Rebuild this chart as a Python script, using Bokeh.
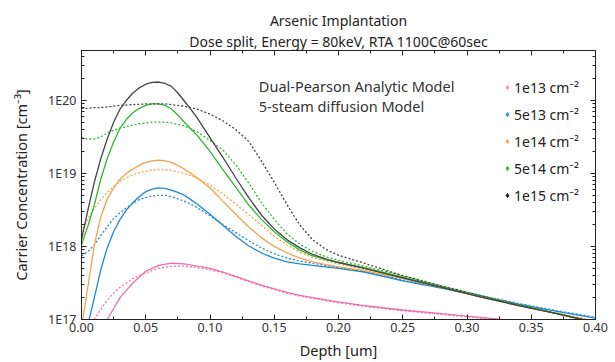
from bokeh.plotting import figure
from bokeh.models import (FixedTicker, CustomJSTickFormatter, NumeralTickFormatter, LogAxis,
                          LinearAxis, Label, Legend, LegendItem, Title)
from bokeh.embed import file_html
from bokeh.resources import INLINE

# depth grid (um) and log10 carrier concentration
X = [0, .005, .01, .015, .02, .025, .03, .035, .04, .045, .05, .055, .06, .065, .07, .075, .08,
     .085, .09, .10, .11, .12, .13, .14, .15, .16, .17, .18, .19, .20, .22, .25, .28, .31, .34,
     .37, .40]

BK_S = [18.09, 18.50, 18.88, 19.20, 19.47, 19.70, 19.88, 20.00, 20.10, 20.17, 20.22, 20.245, 20.25,
        20.23, 20.19, 20.10, 19.99, 19.88, 19.76, 19.49, 19.22, 18.94, 18.67, 18.43, 18.24, 18.09,
        17.98, 17.89, 17.83, 17.78, 17.70, 17.57, 17.44, 17.31, 17.19, 17.08, 16.96]
BK_D = [19.89, 19.89, 19.90, 19.90, 19.91, 19.92, 19.93, 19.935, 19.94, 19.945, 19.95, 19.95, 19.95,
        19.95, 19.94, 19.93, 19.92, 19.90, 19.88, 19.81, 19.72, 19.60, 19.44, 19.17, 18.88, 18.57,
        18.29, 18.09, 17.96, 17.88, 17.77, 17.60, 17.46, 17.33, 17.20, 17.08, 16.96]
GR_S = [18.02, 18.28, 18.57, 18.92, 19.20, 19.43, 19.62, 19.74, 19.83, 19.89, 19.93, 19.95, 19.95,
        19.93, 19.88, 19.80, 19.70, 19.61, 19.52, 19.30, 19.05, 18.81, 18.57, 18.37, 18.20, 18.06,
        17.95, 17.87, 17.82, 17.78, 17.71, 17.58, 17.45, 17.32, 17.20, 17.08, 16.95]
GR_D = [19.49, 19.47, 19.47, 19.50, 19.55, 19.59, 19.62, 19.64, 19.66, 19.68, 19.69, 19.70, 19.70,
        19.70, 19.69, 19.67, 19.65, 19.61, 19.57, 19.45, 19.32, 19.12, 18.87, 18.60, 18.37, 18.17,
        18.03, 17.93, 17.86, 17.81, 17.73, 17.60, 17.46, 17.33, 17.20, 17.08, 16.96]
OR_S = [16.90, 17.45, 18.02, 18.40, 18.65, 18.80, 18.92, 19.00, 19.06, 19.11, 19.15, 19.17, 19.18,
        19.17, 19.15, 19.11, 19.06, 19.00, 18.94, 18.80, 18.62, 18.44, 18.27, 18.12, 18.00, 17.91,
        17.84, 17.79, 17.75, 17.72, 17.67, 17.56, 17.44, 17.31, 17.19, 17.08, 16.97]
OR_D = [18.20, 18.38, 18.52, 18.64, 18.74, 18.82, 18.89, 18.94, 18.98, 19.01, 19.03, 19.045, 19.05,
        19.05, 19.04, 19.02, 19.00, 18.97, 18.93, 18.84, 18.72, 18.58, 18.44, 18.29, 18.14, 18.02,
        17.92, 17.85, 17.80, 17.76, 17.69, 17.57, 17.45, 17.32, 17.20, 17.09, 16.98]
BL_S = [16.60, 16.93, 17.30, 17.68, 17.98, 18.20, 18.37, 18.50, 18.60, 18.68, 18.75, 18.785, 18.80,
        18.795, 18.77, 18.74, 18.70, 18.64, 18.58, 18.44, 18.29, 18.14, 18.01, 17.91, 17.84, 17.79,
        17.76, 17.74, 17.72, 17.70, 17.65, 17.53, 17.43, 17.32, 17.21, 17.11, 17.02]
BL_D = [17.87, 17.93, 18.02, 18.15, 18.27, 18.38, 18.46, 18.53, 18.59, 18.64, 18.67, 18.69, 18.70,
        18.70, 18.68, 18.65, 18.62, 18.58, 18.53, 18.42, 18.30, 18.19, 18.08, 17.98, 17.90, 17.84,
        17.80, 17.77, 17.74, 17.71, 17.66, 17.54, 17.44, 17.33, 17.22, 17.12, 17.03]
PK_X = [.015, .02, .025, .03, .04, .05, .06, .07, .08, .09, .10, .11, .12, .13, .14, .15, .16, .17,
        .18, .19, .20, .22, .25, .28, .31, .34]
PK_S = [16.75, 17.00, 17.15, 17.30, 17.50, 17.66, 17.74, 17.77, 17.76, 17.73, 17.70, 17.65, 17.59,
        17.53, 17.47, 17.42, 17.37, 17.33, 17.30, 17.27, 17.24, 17.19, 17.13, 17.08, 17.03, 16.98]
PK_D_X = [.005, .01] + PK_X
PK_D = [16.80, 17.00, 17.14, 17.26, 17.36, 17.44, 17.56, 17.64, 17.70, 17.73, 17.73, 17.71, 17.68,
        17.64, 17.58, 17.52, 17.46, 17.41, 17.36, 17.32, 17.29, 17.26, 17.23, 17.18, 17.12, 17.07,
        17.02, 16.97]

TITLE_LINES = ["Arsenic Implantation", "Dose split, Energy = 80keV, RTA 1100C@60sec"]
LEGEND_LABELS = ["1e13 cm\u207b\u00b2", "5e13 cm\u207b\u00b2", "1e14 cm\u207b\u00b2",
                 "5e14 cm\u207b\u00b2", "1e15 cm\u207b\u00b2"]
COLORS = ["#f06ea9", "#1b8ad3", "#f4a24a", "#2fb82f", "#444444"]
MARKER_COLORS = ["#f08cc0", "#2a8ad0", "#f0a860", "#22bb22", "#111111"]
X_TICKS = [0, 0.05, 0.10, 0.15, 0.20, 0.25, 0.30, 0.35, 0.40]
X_MINOR = [0.025, 0.075, 0.125, 0.175, 0.225, 0.275, 0.325, 0.375]
Y_TICKS = [1e17, 1e18, 1e19, 1e20]
Y_MINOR = [m * 10.0 ** d for d in (17, 18, 19, 20) for m in range(2, 10)]

FONT = "Noto Sans"

p = figure(width=615, height=362, output_backend="svg", toolbar_location=None,
           y_axis_type="log", x_range=(0, 0.40), y_range=(1e17, 4.8e20),
           min_border_left=81, min_border_right=20, min_border_top=50, min_border_bottom=43)
p.xgrid.visible = False
p.ygrid.visible = False
p.outline_line_color = "#222222"
p.background_fill_color = "white"
p.border_fill_color = "white"

series = [
    (PK_X, PK_S, PK_D_X, PK_D),
    (X, BL_S, X, BL_D),
    (X, OR_S, X, OR_D),
    (X, GR_S, X, GR_D),
    (X, BK_S, X, BK_D),
]
for (xs, ys, xd, yd), c in zip(series, COLORS):
    p.line(xs, [10 ** v for v in ys], line_color=c, line_width=1.3)
    p.line(xd, [10 ** v for v in yd], line_color=c, line_width=1.3, line_dash="2 2")

ytick = FixedTicker(ticks=Y_TICKS, minor_ticks=Y_MINOR)
xtick = FixedTicker(ticks=X_TICKS, minor_ticks=X_MINOR)


def style(ax):
    ax.major_tick_in = 5
    ax.major_tick_out = 0
    ax.minor_tick_in = 3
    ax.minor_tick_out = 0
    ax.axis_line_color = "#222222"
    ax.major_tick_line_color = "#222222"
    ax.minor_tick_line_color = "#222222"
    ax.major_label_text_font = FONT
    ax.major_label_text_font_size = "12.5px"
    ax.major_label_text_color = "#333333"
    ax.axis_label_text_font = FONT
    ax.axis_label_text_font_size = "14.5px"
    ax.axis_label_text_font_style = "normal"
    ax.axis_label_text_color = "#222222"


p.xaxis.ticker = xtick
p.xaxis.formatter = NumeralTickFormatter(format="0.00")
p.xaxis.axis_label = "Depth [um]"
p.yaxis.ticker = ytick
p.yaxis.formatter = CustomJSTickFormatter(
    code="return '1E' + Math.round(Math.log10(tick)).toString();")
p.yaxis.axis_label = "Carrier Concentration [cm\u207b\u00b3]"
style(p.xaxis[0])
style(p.yaxis[0])
p.xaxis.major_label_standoff = 3
p.xaxis.axis_label_standoff = 5
p.yaxis.major_label_standoff = 5
p.yaxis.axis_label_standoff = 14

# mirrored axes carrying only inward ticks
top = LinearAxis(ticker=xtick)
style(top)
top.major_label_text_alpha = 0
top.major_label_text_font_size = "1px"
top.major_label_standoff = 0
right = LogAxis(ticker=ytick)
style(right)
right.major_label_text_alpha = 0
right.major_label_text_font_size = "1px"
right.major_label_standoff = 0
p.add_layout(top, "above")
p.add_layout(right, "right")

# title: main line on top, sub line below it
p.title.text = TITLE_LINES[0]
p.title.align = "center"
p.title.standoff = 0
p.title.text_line_height = 1.1
p.title.text_font = FONT
p.title.text_font_size = "14px"
p.title.text_font_style = "normal"
p.title.text_color = "#222222"
p.add_layout(Title(text=TITLE_LINES[1], align="center", standoff=0, text_line_height=1.15,
                   text_font=FONT, text_font_size="14px", text_font_style="normal",
                   text_color="#222222"), "above")

for txt, yv in (("Dual-Pearson Analytic Model", 1.55e20), ("5-steam diffusion Model", 8.3e19)):
    p.add_layout(Label(x=0.138, y=yv, text=txt, text_font=FONT, text_font_size="14.5px",
                       text_color="#333333", text_baseline="middle"))

items = []
for lab, c in zip(LEGEND_LABELS, MARKER_COLORS):
    r = p.scatter(x=[0.5], y=[1e18], marker="diamond", size=9, fill_color=c, line_color=c)
    items.append(LegendItem(label=lab, renderers=[r]))
leg = Legend(items=items, location=(421, 114), orientation="vertical",
             label_text_font=FONT, label_text_font_size="14px", label_text_color="#222222",
             glyph_width=10, glyph_height=20, label_height=20, spacing=7, padding=0,
             margin=0, border_line_color=None, background_fill_alpha=0, label_standoff=2)
p.add_layout(leg)

open("out.html", "w").write(file_html(p, INLINE))
